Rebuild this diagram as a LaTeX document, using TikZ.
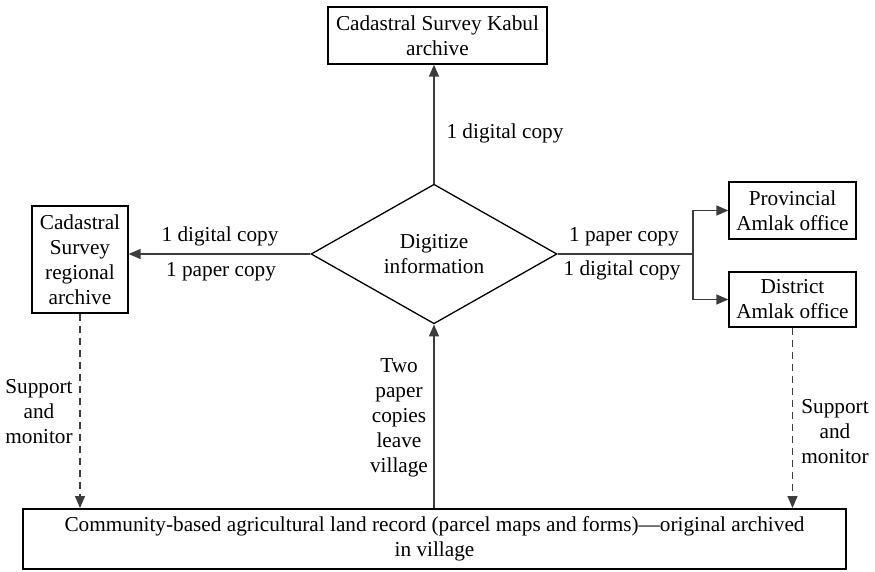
\documentclass[tikz,border=0pt]{standalone}
\usepackage{fontspec}
\setmainfont{Liberation Serif}
\usetikzlibrary{arrows.meta,shapes.geometric}
\definecolor{linegray}{RGB}{60,60,60}
\begin{document}
\begin{tikzpicture}[x=1pt,y=-1pt,
  every node/.style={font=\fontsize{21.25}{25}\selectfont},
  box/.style={draw=black,line width=1.3pt,align=center,inner sep=0pt},
  conn/.style={draw=linegray,line width=1.4pt},
  tip/.style={-{Triangle[length=12pt,width=10pt]}},
  dashline/.style={dash pattern=on 7pt off 5pt}]
\useasboundingbox (0,0) rectangle (875,572);

% boxes
\node[box,minimum width=219pt,minimum height=57pt] (kabul) at (437.5,35.5)
  {Cadastral Survey Kabul\\archive};
\node[box,minimum width=96pt,minimum height=107pt] (regional) at (80,259.5)
  {Cadastral\\Survey\\regional\\archive};
\node[box,minimum width=127pt,minimum height=57pt] (prov) at (792.5,210.5)
  {Provincial\\Amlak office};
\node[box,minimum width=127pt,minimum height=55pt] (dist) at (792.5,299.5)
  {District\\Amlak office};
\node[draw=black,diamond,line width=1.3pt,minimum width=246pt,minimum height=106pt,
  inner sep=0pt,align=center] (dig) at (434,254) {Digitize\\information};
\node[box,line width=2pt,minimum width=823pt,minimum height=60pt] (village) at (434.5,539)
  {Community-based agricultural land record (parcel maps and forms)---original archived\\in village};

% connectors
\draw[conn,tip] (dig.north) -- (dig.north |- kabul.south);
\draw[conn,tip] (dig.west) -- (regional.east |- dig.west);
\coordinate (fork) at (693,254);
\draw[conn] (dig.east) -- (fork);
\draw[conn,tip] (fork) |- (prov.west);
\draw[conn,tip] (fork) |- (dist.west);
\draw[conn,dashline,tip] (regional.south) -- (regional.south |- village.north);
\draw[conn,dashline,tip] (dist.south) -- (dist.south |- village.north);
\draw[conn,tip] (village.north -| dig.south) -- (dig.south);

% labels
\node[anchor=west] (lk) at (443,133) {1 digital copy};
\node (ld) at (220,236) {1 digital copy};
\node (lp) at (221,272) {1 paper copy};
\node (rp) at (624,237) {1 paper copy};
\node (rd) at (622,270) {1 digital copy};
\node[align=center] (sl) at (39,412) {Support\\and\\monitor};
\node[align=center] (sr) at (835,432) {Support\\and\\monitor};
\node[align=center] (two) at (399,418) {Two\\paper\\copies\\leave\\village};
\end{tikzpicture}
\end{document}
